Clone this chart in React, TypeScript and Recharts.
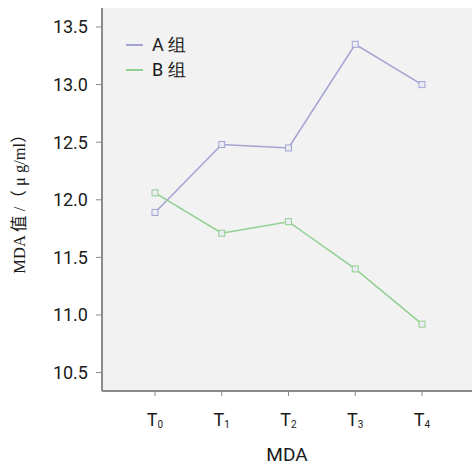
import React from 'react';
import { LineChart, Line, XAxis, YAxis, CartesianGrid } from 'recharts';

const categories = ['T0', 'T1', 'T2', 'T3', 'T4'];
const groupA = [11.89, 12.48, 12.45, 13.35, 13.0];
const groupB = [12.06, 11.71, 11.81, 11.4, 10.92];
const yTicks = [10.5, 11.0, 11.5, 12.0, 12.5, 13.0, 13.5];

const data = categories.map((c, i) => ({ name: c, a: groupA[i], b: groupB[i] }));

const colorA = '#a3a3d3';
const colorB = '#91d091';
const axisColor = '#8a8a8a';
const tickFont = 'Roboto, "Liberation Sans", Arial, sans-serif';

const SquareDot = (props: any) => {
  const { cx, cy, stroke } = props;
  if (cx == null || cy == null) return null;
  return <rect x={cx - 3} y={cy - 3} width={6} height={6} fill="#ececf4" stroke={stroke} strokeWidth={1} />;
};

const SubTick = (props: any) => {
  const { x, y, payload } = props;
  const label: string = payload.value;
  return (
    <text x={x} y={y + 28} textAnchor="middle" fontFamily={tickFont} fontSize={18} fill="#1a1a1a">
      <tspan>{label[0]}</tspan>
      <tspan fontSize={10} dy={2}>{label.slice(1)}</tspan>
    </text>
  );
};

const YTitle = () => (
  <text
    x={0}
    y={0}
    transform="translate(25, 200) rotate(-90)"
    textAnchor="middle"
    fontFamily='"Liberation Serif", "Noto Sans CJK SC", serif'
    fontSize={16.5}
    fill="#1a1a1a"
  >
    MDA 值 /（ μ g/ml）
  </text>
);

const LegendBox = () => (
  <div style={{ position: 'absolute', left: 126, top: 32, fontFamily: tickFont, fontSize: 18, color: '#1a1a1a', lineHeight: '25px' }}>
    {[{ c: colorA, t: 'A 组' }, { c: colorB, t: 'B 组' }].map((d) => (
      <div key={d.t} style={{ display: 'flex', alignItems: 'center' }}>
        <span style={{ display: 'inline-block', width: 17, height: 2, background: d.c, marginRight: 9 }} />
        <span>{d.t}</span>
      </div>
    ))}
  </div>
);

export default function App() {
  return (
    <div style={{ position: 'absolute', left: 0, top: 0, width: 473, height: 466, background: '#fff' }}>
      <LineChart width={473} height={466} data={data} margin={{ top: 8, right: 1, left: 0, bottom: 0 }}>
        <CartesianGrid fill="#f2f2f2" stroke="none" horizontal={false} vertical={false} />
        <XAxis
          dataKey="name"
          height={75}
          padding={{ left: 53, right: 50 }}
          tick={<SubTick />}
          tickLine={{ stroke: axisColor }}
          tickSize={5}
          axisLine={{ stroke: axisColor, strokeWidth: 2 }}
          label={{ value: 'MDA', position: 'insideBottom', offset: 5, fontFamily: tickFont, fontSize: 19, fill: '#1a1a1a' }}
        />
        <XAxis xAxisId="top" orientation="top" dataKey="name" height={0} tick={false} tickLine={false}
          axisLine={{ stroke: axisColor, strokeWidth: 2 }} />
        <YAxis
          width={102}
          domain={[10.34, 13.665]}
          ticks={yTicks}
          interval={0}
          tickFormatter={(v: number) => v.toFixed(1)}
          tick={{ fontFamily: tickFont, fontSize: 18, fill: '#1a1a1a' }}
          tickLine={{ stroke: axisColor }}
          tickSize={6}
          tickMargin={8}
          axisLine={{ stroke: axisColor, strokeWidth: 2 }}
          allowDataOverflow
          label={<YTitle />}
        />
        <YAxis yAxisId="right" orientation="right" width={0} tick={false} tickLine={false}
          axisLine={{ stroke: '#bbb', strokeWidth: 1 }} />
        <Line dataKey="a" stroke={colorA} strokeWidth={1.5} dot={<SquareDot />} isAnimationActive={false} />
        <Line dataKey="b" stroke={colorB} strokeWidth={1.5} dot={<SquareDot />} isAnimationActive={false} />
      </LineChart>
      <LegendBox />
    </div>
  );
}
